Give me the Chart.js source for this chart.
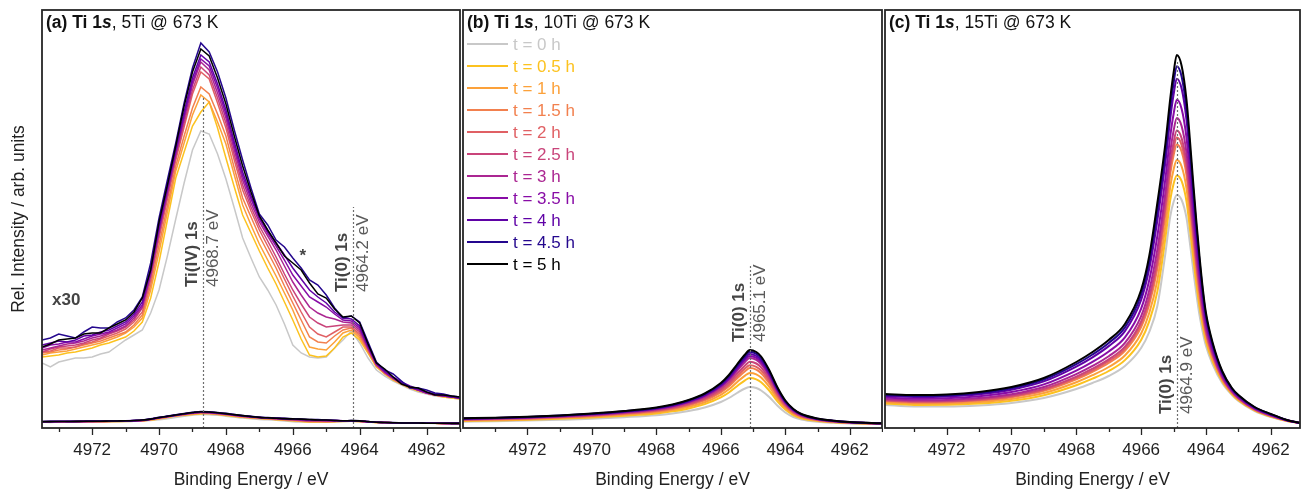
<!DOCTYPE html>
<html>
<head>
<meta charset="utf-8">
<title>Ti 1s spectra</title>
<script src="https://cdn.jsdelivr.net/npm/chart.js@4.4.1/dist/chart.umd.min.js"></script>
<style>
  html, body { margin: 0; padding: 0; background: #fff; }
  body { width: 1301px; height: 489px; position: relative; overflow: hidden; }
  canvas { position: absolute; top: 0; }
</style>
</head>
<body>
<canvas id="panelA" width="462" height="489" style="left:0px"></canvas>
<canvas id="panelB" width="421" height="489" style="left:462px"></canvas>
<canvas id="panelC" width="418" height="489" style="left:883px"></canvas>
<script>
var FONT = "'Liberation Sans', Arial, Helvetica, sans-serif";

var TIME_LABELS = ['t = 0 h', 't = 0.5 h', 't = 1 h', 't = 1.5 h', 't = 2 h', 't = 2.5 h',
                   't = 3 h', 't = 3.5 h', 't = 4 h', 't = 4.5 h', 't = 5 h'];
var SERIES_COLORS = ['#c8c8c8', '#fcc21f', '#fca13a', '#f2804e', '#e06064', '#c9447a',
                     '#ab2692', '#880ca6', '#5f02a6', '#24078e', '#000000'];
var TICK_LABELS = [4962, 4964, 4966, 4968, 4970, 4972];
var MINOR_TICKS = [4961, 4963, 4965, 4967, 4969, 4971, 4973];

// (a) 5Ti, trace shown x30 (values as plotted), raw = (v + A_OFFSET) / A_SCALE
var A_SCALE = 30;
var A_OFFSET = 108;
var A_ENERGY = [4973.5, 4973.25, 4973, 4972.75, 4972.5, 4972.25, 4972, 4971.75, 4971.5, 4971.25,
                4971, 4970.75, 4970.5, 4970.25, 4970, 4969.75, 4969.5, 4969.25, 4969, 4968.75,
                4968.5, 4968.25, 4968, 4967.75, 4967.5, 4967.25, 4967, 4966.75, 4966.5, 4966.25,
                4966, 4965.75, 4965.5, 4965.25, 4965, 4964.75, 4964.5, 4964.25, 4964, 4963.75,
                4963.5, 4963.25, 4963, 4962.75, 4962.5, 4962.25, 4962, 4961.75, 4961.5, 4961.25, 4961];
var A_0h  = [65, 61, 66, 68, 70, 70, 71, 74, 76, 82, 88, 93, 98, 115, 138, 172, 209, 245, 278, 297, 294, 274, 249, 220, 190, 170, 151, 138, 123, 104, 83, 75, 71, 70, 71, 80, 88, 97, 85, 70, 58, 52, 47, 43, 39, 36, 34, 32, 31, 30, 29];
var A_05h = [71, 72, 73, 75, 76, 78, 80, 83, 85, 88, 91, 97, 106, 130, 166, 208, 250, 276, 302, 316, 326, 300, 270, 241, 213, 195, 177, 160, 144, 126, 108, 89, 73, 71, 72, 80, 91, 95, 88, 75, 61, 54, 48, 44, 40, 37, 35, 33, 31, 30, 29];
var A_1h  = [73, 75, 76, 77, 79, 81, 83, 85, 88, 91, 95, 101, 110, 138, 176, 216, 257, 285, 313, 333, 326, 306, 284, 253, 223, 203, 184, 168, 152, 135, 118, 98, 81, 79, 78, 86, 95, 98, 90, 76, 62, 54, 49, 44, 40, 38, 35, 33, 32, 31, 30];
var A_15h = [75, 76, 78, 79, 81, 83, 85, 87, 90, 93, 96, 103, 113, 143, 183, 222, 262, 292, 320, 341, 334, 314, 292, 260, 230, 211, 192, 176, 160, 142, 125, 108, 91, 86, 85, 92, 98, 100, 92, 77, 62, 55, 49, 44, 41, 38, 35, 33, 32, 31, 30];
var A_2h  = [76, 77, 80, 80, 81, 84, 86, 89, 92, 95, 99, 106, 116, 148, 190, 229, 268, 301, 334, 356, 349, 325, 300, 268, 238, 217, 198, 182, 166, 149, 132, 116, 101, 94, 91, 96, 101, 101, 94, 78, 63, 55, 49, 45, 41, 38, 35, 33, 32, 31, 30];
var A_25h = [76, 79, 81, 82, 83, 85, 88, 90, 94, 97, 101, 108, 120, 152, 194, 232, 271, 305, 338, 361, 353, 330, 305, 273, 243, 221, 202, 187, 171, 154, 138, 124, 111, 105, 101, 102, 103, 103, 96, 79, 63, 55, 50, 45, 41, 38, 35, 33, 32, 31, 30];
var A_3h  = [78, 80, 82, 84, 85, 87, 90, 92, 95, 98, 102, 110, 121, 154, 197, 236, 274, 309, 343, 366, 358, 335, 310, 278, 248, 225, 206, 192, 178, 162, 146, 133, 121, 115, 111, 109, 106, 105, 98, 80, 64, 56, 50, 45, 41, 38, 35, 33, 32, 31, 30];
var A_35h = [80, 83, 84, 86, 86, 89, 92, 94, 96, 100, 104, 112, 123, 156, 199, 238, 276, 312, 346, 369, 362, 340, 314, 282, 252, 229, 209, 195, 182, 168, 153, 142, 131, 126, 121, 114, 108, 107, 100, 81, 64, 56, 50, 45, 41, 38, 35, 34, 32, 31, 30];
var A_4h  = [83, 85, 87, 86, 88, 92, 93, 96, 98, 102, 106, 114, 126, 160, 202, 241, 279, 316, 350, 373, 366, 344, 318, 286, 256, 232, 211, 197, 185, 173, 160, 149, 138, 131, 125, 116, 110, 109, 102, 82, 65, 57, 51, 46, 42, 39, 36, 34, 33, 31, 30];
var A_45h = [88, 90, 94, 92, 90, 96, 101, 100, 100, 106, 110, 118, 131, 165, 210, 248, 285, 325, 360, 385, 376, 356, 330, 298, 268, 240, 214, 203, 188, 181, 170, 160, 148, 143, 133, 120, 110, 112, 106, 86, 66, 58, 54, 47, 40, 40, 38, 35, 34, 32, 31];
var A_5h  = [81, 84, 88, 89, 90, 94, 95, 95, 100, 104, 108, 116, 130, 158, 206, 243, 282, 322, 356, 379, 372, 350, 324, 292, 262, 236, 212, 198, 185, 172, 165, 158, 145, 134, 130, 119, 111, 112, 105, 84, 65, 59, 51, 44, 41, 40, 36, 33, 33, 32, 31];

// (b) 10Ti
var B_ENERGY = [4974, 4973, 4972, 4971, 4970, 4969, 4968, 4967.5, 4967, 4966.5, 4966, 4965.75, 4965.5, 4965.25,
                4965.1, 4964.9, 4964.75, 4964.5, 4964.25, 4964, 4963.75, 4963.5, 4963, 4962.5, 4962, 4961.5, 4961];
var B_0h  = [6.3, 6.8, 7.4, 8.2, 9.2, 10.8, 12.8, 14.5, 17, 20.5, 26, 30, 35, 39.5, 41, 40, 37.5, 31, 22.5, 15.5, 11, 8.5, 6.2, 5.2, 4.6, 4.2, 4];
var B_05h = [7.1, 7.6, 8.3, 9.3, 10.5, 12.3, 14.6, 16.7, 19.6, 23.9, 30.6, 35.5, 41.8, 47.7, 49.9, 48.6, 45.7, 37.5, 26.9, 18.4, 12.9, 9.8, 7, 5.7, 4.9, 4.4, 4.2];
var B_1h  = [7.6, 8.1, 8.8, 9.9, 11.2, 13.2, 15.7, 17.9, 21.2, 25.8, 33.2, 38.7, 45.8, 52.4, 55.1, 53.7, 50.4, 41.3, 29.5, 20.1, 14, 10.6, 7.5, 6, 5.1, 4.6, 4.3];
var B_15h = [8, 8.6, 9.3, 10.4, 11.9, 14, 16.7, 19.1, 22.6, 27.6, 35.7, 41.7, 49.5, 56.8, 59.9, 58.4, 54.8, 44.8, 31.9, 21.6, 15.1, 11.3, 7.9, 6.3, 5.3, 4.7, 4.4];
var B_2h  = [8.3, 8.9, 9.6, 10.8, 12.3, 14.5, 17.3, 19.8, 23.5, 28.8, 37.2, 43.6, 51.8, 59.6, 62.8, 61.2, 57.6, 46.9, 33.4, 22.6, 15.7, 11.7, 8.1, 6.4, 5.4, 4.8, 4.4];
var B_25h = [8.6, 9.2, 10, 11.2, 12.8, 15, 18, 20.6, 24.5, 30, 38.9, 45.6, 54.4, 62.6, 66.2, 64.5, 60.6, 49.4, 35.1, 23.7, 16.4, 12.2, 8.4, 6.6, 5.6, 4.9, 4.5];
var B_3h  = [9, 9.5, 10.4, 11.6, 13.3, 15.6, 18.8, 21.5, 25.6, 31.4, 40.8, 47.9, 57.2, 66, 69.9, 68.1, 64, 52.1, 36.9, 24.9, 17.2, 12.8, 8.8, 6.8, 5.7, 5, 4.5];
var B_35h = [9.2, 9.7, 10.6, 11.9, 13.7, 16, 19.3, 22.1, 26.2, 32.3, 42, 49.3, 58.9, 68.1, 72.1, 70.2, 66.1, 53.7, 38, 25.6, 17.7, 13.1, 9, 7, 5.8, 5, 4.6];
var B_4h  = [9.3, 9.9, 10.8, 12.1, 13.9, 16.3, 19.7, 22.5, 26.8, 33, 42.9, 50.5, 60.4, 69.8, 73.9, 72, 67.8, 55, 39, 26.2, 18.1, 13.4, 9.1, 7.1, 5.8, 5.1, 4.6];
var B_45h = [9.5, 10.1, 11, 12.4, 14.2, 16.7, 20.1, 23.1, 27.5, 33.8, 44, 51.9, 62.1, 71.8, 76.2, 74.2, 69.8, 56.7, 40.1, 26.9, 18.6, 13.7, 9.3, 7.2, 5.9, 5.2, 4.7];
var B_5h  = [9.7, 10.3, 11.2, 12.6, 14.5, 17, 20.5, 23.5, 28, 34.5, 45, 53, 63.5, 73.5, 78, 76, 71.5, 58, 41, 27.5, 19, 14, 9.5, 7.3, 6, 5.2, 4.7];

// (c) 15Ti
var C_ENERGY = [4973.9, 4973, 4972, 4971, 4970, 4969, 4968, 4967.5, 4967, 4966.5, 4966, 4965.75, 4965.5, 4965.25,
                4965.1, 4965, 4964.9, 4964.75, 4964.6, 4964.5, 4964.4, 4964.3, 4964.2, 4964.1, 4964, 4963.8,
                4963.5, 4963.2, 4963, 4962.5, 4962, 4961.5, 4961.1];
var C_0h  = [23, 21.5, 21.5, 22.5, 25, 30, 39, 45, 52, 62, 80, 96, 122, 175, 212, 226, 233, 228, 210, 186, 160, 135, 113, 96, 82, 64, 45, 33, 27, 17, 11, 7, 5];
var C_05h = [24.5, 23.1, 23.2, 24.4, 27.2, 32.8, 42.8, 49.3, 57, 67.9, 88.1, 106.6, 136.4, 190.4, 228.5, 244.1, 252.6, 246.8, 226.5, 200.6, 172.3, 145.2, 121.3, 102.2, 86.6, 67.1, 46.7, 34, 27.8, 17.6, 11.4, 7.1, 5];
var C_1h  = [25.8, 24.4, 24.5, 25.9, 29, 35, 45.8, 52.8, 61, 72.5, 94.5, 115, 147.8, 202.5, 241.5, 258.3, 268, 261.5, 239.5, 212, 182, 153.3, 127.8, 107, 90.3, 69.5, 48, 34.8, 28.5, 18, 11.8, 7.3, 5];
var C_15h = [27, 25.6, 25.8, 27.4, 30.8, 37.2, 48.7, 56.2, 65, 77.1, 100.9, 123.4, 159.1, 214.6, 254.5, 272.4, 283.4, 276.2, 252.5, 223.4, 191.7, 161.3, 134.2, 111.8, 93.9, 71.9, 49.3, 35.5, 29.2, 18.4, 12.1, 7.4, 5];
var C_2h  = [27.5, 26.2, 26.4, 28, 31.6, 38.2, 50.1, 57.7, 66.8, 79.2, 103.8, 127.2, 164.2, 220.1, 260.4, 278.9, 290.4, 282.9, 258.4, 228.6, 196.1, 164.9, 137.2, 114, 95.5, 73, 49.9, 35.9, 29.5, 18.6, 12.2, 7.4, 5];
var C_25h = [28.1, 26.8, 27, 28.7, 32.4, 39.2, 51.4, 59.3, 68.6, 81.3, 106.7, 131, 169.4, 225.6, 266.3, 285.3, 297.4, 289.6, 264.3, 233.8, 200.5, 168.6, 140.1, 116.2, 97.2, 74.1, 50.5, 36.2, 29.8, 18.8, 12.4, 7.5, 5];
var C_3h  = [29.1, 27.8, 28.1, 29.9, 33.8, 41, 53.9, 62.1, 71.8, 85.1, 111.9, 137.8, 178.7, 235.5, 276.9, 297, 310, 301.7, 274.9, 243.2, 208.4, 175.2, 145.5, 120.2, 100.2, 76.1, 51.6, 36.9, 30.3, 19.2, 12.7, 7.6, 5];
var C_35h = [30.5, 29.3, 29.7, 31.7, 35.9, 43.6, 57.4, 66.1, 76.5, 90.6, 119.4, 147.7, 192, 249.8, 292.2, 313.7, 328.2, 319.1, 290.2, 256.7, 219.8, 184.6, 153.1, 125.9, 104.4, 79, 53.2, 37.8, 31.1, 19.7, 13, 7.7, 5];
var C_4h  = [32.1, 31, 31.5, 33.7, 38.3, 46.6, 61.4, 70.7, 81.9, 96.9, 128.1, 159.1, 207.5, 266.3, 309.9, 333.1, 349.2, 339.2, 307.9, 272.3, 233, 195.6, 162, 132.5, 109.4, 82.3, 55, 38.8, 32, 20.3, 13.5, 7.8, 5];
var C_45h = [33.1, 32.1, 32.5, 34.9, 39.7, 48.4, 63.8, 73.5, 85.1, 100.6, 133.4, 165.9, 216.8, 276.2, 320.6, 344.7, 361.8, 351.3, 318.6, 281.7, 241, 202.2, 167.3, 136.5, 112.4, 84.2, 56, 39.4, 32.5, 20.7, 13.8, 7.9, 5];
var C_5h  = [34, 33, 33.5, 36, 41, 50, 66, 76, 88, 104, 138, 172, 225, 285, 330, 355, 373, 362, 328, 290, 248, 208, 172, 140, 115, 86, 57, 40, 33, 21, 14, 8, 5];

var A_SERIES = [A_0h, A_05h, A_1h, A_15h, A_2h, A_25h, A_3h, A_35h, A_4h, A_45h, A_5h];
var B_SERIES = [B_0h, B_05h, B_1h, B_15h, B_2h, B_25h, B_3h, B_35h, B_4h, B_45h, B_5h];
var C_SERIES = [C_0h, C_05h, C_1h, C_15h, C_2h, C_25h, C_3h, C_35h, C_4h, C_45h, C_5h];

Chart.defaults.font.family = FONT;
Chart.defaults.animation = false;

function drawRotated(ctx, text, x, y, font, color) {
    ctx.save();
    ctx.translate(x, y);
    ctx.rotate(-Math.PI / 2);
    ctx.font = font;
    ctx.fillStyle = color;
    ctx.textAlign = 'left';
    ctx.textBaseline = 'middle';
    ctx.fillText(text, 0, 0);
    ctx.restore();
}

function decorPlugin(cfg) {
    return {
        id: 'decor',
        afterDatasetsDraw: function(chart) {
            var ctx = chart.ctx, xs = chart.scales.x, ys = chart.scales.y;
            ctx.save();
            cfg.markers.forEach(function(m) {
                var px = Math.round(xs.getPixelForValue(m.energy)) + 0.5;
                ctx.setLineDash([2, 2]);
                ctx.strokeStyle = '#6e6e6e';
                ctx.lineWidth = 1.2;
                ctx.beginPath();
                ctx.moveTo(px, ys.getPixelForValue(0));
                ctx.lineTo(px, ys.getPixelForValue(m.top));
                ctx.stroke();
                ctx.setLineDash([]);
                var base = ys.getPixelForValue(m.labelAt);
                drawRotated(ctx, m.name, px - 11, base, 'bold 17px ' + FONT, '#444');
                drawRotated(ctx, m.energy.toFixed(1) + ' eV', px + 10, base, '17px ' + FONT, '#5a5a5a');
            });
            (cfg.notes || []).forEach(function(n) {
                ctx.font = 'bold 17px ' + FONT;
                ctx.fillStyle = '#444';
                ctx.textAlign = 'left';
                ctx.textBaseline = 'alphabetic';
                ctx.fillText(n.text, xs.getPixelForValue(n.energy), ys.getPixelForValue(n.level));
            });
            ctx.restore();
        },
        afterDraw: function(chart) {
            var ctx = chart.ctx, a = chart.chartArea, xs = chart.scales.x;
            ctx.save();
            // frame
            ctx.strokeStyle = '#262626';
            ctx.lineWidth = 1.8;
            ctx.strokeRect(a.left, a.top, a.right - a.left, a.bottom - a.top);
            // tick marks
            ctx.lineWidth = 1.3;
            function tick(v, len) {
                if (v < xs.min || v > xs.max) return;
                var px = Math.round(xs.getPixelForValue(v)) + 0.5;
                ctx.beginPath();
                ctx.moveTo(px, a.bottom);
                ctx.lineTo(px, a.bottom + len);
                ctx.stroke();
            }
            TICK_LABELS.forEach(function(v) { tick(v, 7); });
            MINOR_TICKS.forEach(function(v) { tick(v, 4); });
            // panel header
            var x = a.left + 4, y = a.top + 18;
            ctx.fillStyle = '#111';
            ctx.textBaseline = 'alphabetic';
            ctx.textAlign = 'left';
            cfg.header.forEach(function(part) {
                ctx.font = part[1] + ' 17.5px ' + FONT;
                ctx.fillText(part[0], x, y);
                x += ctx.measureText(part[0]).width;
            });
            // legend
            if (cfg.legend) {
                ctx.font = '17px ' + FONT;
                ctx.textBaseline = 'middle';
                chart.data.datasets.forEach(function(ds, i) {
                    var ly = a.top + 34 + 22 * i;
                    ctx.strokeStyle = ds.borderColor;
                    ctx.lineWidth = 2;
                    ctx.beginPath();
                    ctx.moveTo(a.left + 4, ly);
                    ctx.lineTo(a.left + 45, ly);
                    ctx.stroke();
                    ctx.fillStyle = ds.borderColor;
                    ctx.fillText(ds.label, a.left + 50, ly + 1);
                });
            }
            ctx.restore();
        }
    };
}

function buildPanel(id, energy, series, cfg) {
    var datasets = series.map(function(vals, i) {
        return {
            label: TIME_LABELS[i],
            data: energy.map(function(e, k) { return {x: e, y: vals[k]}; }),
            borderColor: SERIES_COLORS[i],
            borderWidth: cfg.lineWidth,
            pointRadius: 0,
            cubicInterpolationMode: cfg.smooth ? 'monotone' : 'default',
            tension: 0,
            order: series.length - i
        };
    });
    if (cfg.unscaled) {
        // same spectra at their true (x1) scale along the bottom
        series.forEach(function(vals, i) {
            datasets.push({
                label: TIME_LABELS[i] + ' (x1)',
                data: energy.map(function(e, k) { return {x: e, y: (vals[k] + A_OFFSET) / A_SCALE}; }),
                borderColor: SERIES_COLORS[i],
                borderWidth: 1.6,
                pointRadius: 0,
                cubicInterpolationMode: 'monotone',
                order: 30 - i
            });
        });
    }
    var showY = !!cfg.yTitle;
    return new Chart(document.getElementById(id).getContext('2d'), {
        type: 'line',
        data: { datasets: datasets },
        options: {
            responsive: false,
            devicePixelRatio: 1,
            layout: { padding: cfg.padding },
            plugins: { legend: { display: false }, tooltip: { enabled: false } },
            scales: {
                x: {
                    type: 'linear',
                    reverse: true,
                    min: cfg.xmin,
                    max: cfg.xmax,
                    afterBuildTicks: function(s) {
                        s.ticks = TICK_LABELS.map(function(v) { return {value: v}; });
                    },
                    afterFit: function(s) { s.height = 61; },
                    ticks: {
                        autoSkip: false, maxRotation: 0, padding: 5, color: '#222',
                        font: { size: 17 },
                        callback: function(v) { return String(v); }
                    },
                    grid: { display: false, drawTicks: true, tickLength: 7 },
                    border: { display: false },
                    title: {
                        display: true, text: 'Binding Energy / eV', color: '#222',
                        font: { size: 17.5, lineHeight: 1 }, padding: { top: 0, bottom: 0 }
                    }
                },
                y: {
                    min: 0,
                    max: 418,
                    display: showY,
                    afterFit: function(s) { if (showY) s.width = 42; },
                    ticks: { display: false },
                    grid: { display: false },
                    border: { display: false },
                    title: {
                        display: showY, text: cfg.yTitle || '', color: '#222',
                        font: { size: 17.5 }, padding: { top: 9, bottom: 0 }
                    }
                }
            }
        },
        plugins: [decorPlugin(cfg)]
    });
}

window.onload = function() {
    buildPanel('panelA', A_ENERGY, A_SERIES, {
        xmin: 4961, xmax: 4973.5, lineWidth: 1.5, smooth: false, unscaled: true,
        yTitle: 'Rel. Intensity / arb. units',
        padding: { top: 10, right: 2, bottom: 0, left: 0 },
        header: [['(a) Ti 1', 'bold'], ['s', 'bold italic'], [', 5Ti @ 673 K', '']],
        markers: [
            { energy: 4968.7, name: 'Ti(IV) 1s', top: 330, labelAt: 141 },
            { energy: 4964.2, name: 'Ti(0) 1s', top: 221, labelAt: 136 }
        ],
        notes: [
            { text: 'x30', energy: 4973.2, level: 123 },
            { text: '*', energy: 4965.8, level: 167 }
        ]
    });
    buildPanel('panelB', B_ENERGY, B_SERIES, {
        xmin: 4961, xmax: 4974, lineWidth: 2, smooth: true, legend: true,
        padding: { top: 10, right: 1, bottom: 0, left: 1 },
        header: [['(b) Ti 1', 'bold'], ['s', 'bold italic'], [', 10Ti @ 673 K', '']],
        markers: [
            { energy: 4965.1, name: 'Ti(0) 1s', top: 163, labelAt: 86 }
        ]
    });
    buildPanel('panelC', C_ENERGY, C_SERIES, {
        xmin: 4961.1, xmax: 4973.9, lineWidth: 2, smooth: true,
        padding: { top: 10, right: 1, bottom: 0, left: 2 },
        header: [['(c) Ti 1', 'bold'], ['s', 'bold italic'], [', 15Ti @ 673 K', '']],
        markers: [
            { energy: 4964.9, name: 'Ti(0) 1s', top: 368, labelAt: 14 }
        ]
    });
};
</script>
</body>
</html>
